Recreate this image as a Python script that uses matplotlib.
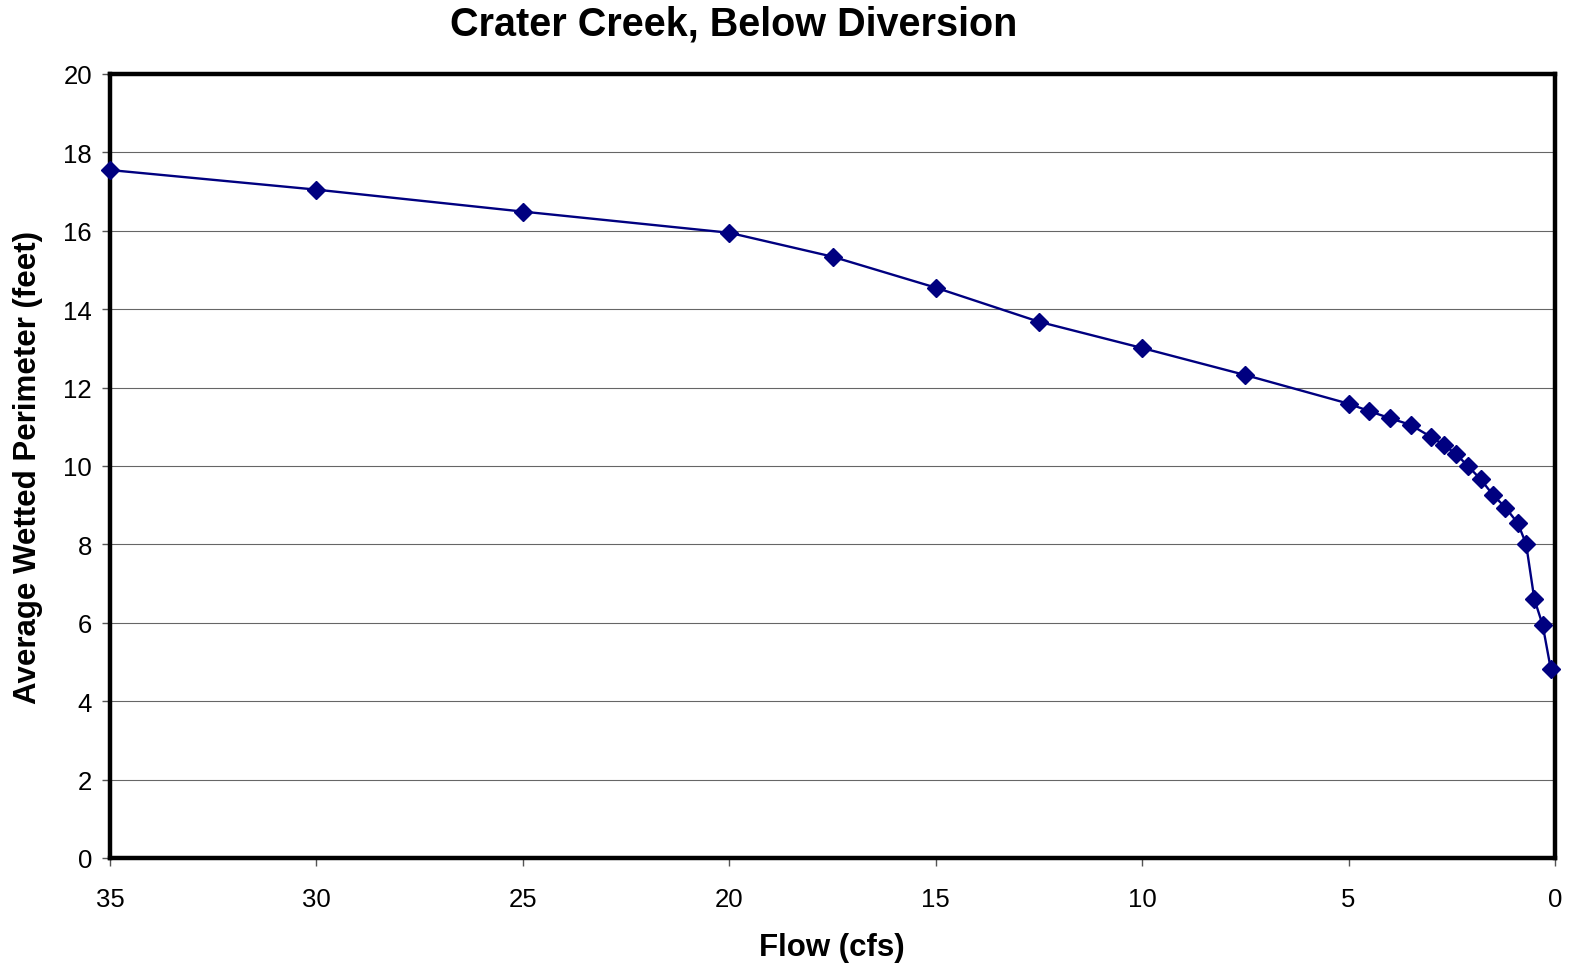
import matplotlib
matplotlib.use("Agg")
import matplotlib.pyplot as plt

flow = [35, 30, 25, 20, 17.5, 15, 12.5, 10, 7.5, 5, 4.5, 4, 3.5, 3, 2.7, 2.4, 2.1,
        1.8, 1.5, 1.2, 0.9, 0.7, 0.5, 0.3, 0.1]
perimeter = [17.55, 17.05, 16.49, 15.95, 15.34, 14.55, 13.68, 13.01, 12.32, 11.59,
             11.40, 11.22, 11.05, 10.74, 10.54, 10.31, 9.99, 9.66, 9.26, 8.94,
             8.54, 8.01, 6.60, 5.95, 4.81]
xticks = [35, 30, 25, 20, 15, 10, 5, 0]
yticks = [0, 2, 4, 6, 8, 10, 12, 14, 16, 18, 20]

plt.rcParams['font.family'] = ['Liberation Sans', 'DejaVu Sans']

fig = plt.figure(figsize=(15.7, 9.7), dpi=100)
ax = fig.add_axes([110/1570, 1 - 859/970, (1555-110)/1570, (859-75)/970])

ax.plot(flow, perimeter, color='#000080', linewidth=1.7, marker='D',
        markersize=9, markerfacecolor='#000080', markeredgecolor='#000080', zorder=3, clip_on=False)

ax.set_xlim(35, 0)
ax.set_ylim(0, 20)
ax.set_xticks(xticks)
ax.set_yticks(yticks)
ax.set_xticklabels([str(t) for t in xticks])
ax.set_yticklabels([str(t) for t in yticks])
ax.grid(axis='y', color='#000000', linewidth=0.8, alpha=0.6)
ax.set_axisbelow(True)
for s in ax.spines.values():
    s.set_linewidth(3.2)
    s.set_color('black')
ax.tick_params(axis='both', labelsize=18.5, direction='out', length=6, width=1, color='#555555')
ax.tick_params(axis='x', pad=15)
ax.tick_params(axis='y', pad=7)

fig.text(734/1570, 1 - 25/970, 'Crater Creek, Below Diversion', ha='center', va='center',
         fontsize=28.5, fontweight='bold')
fig.text(832/1570, 1 - 948/970, 'Flow (cfs)', ha='center', va='center',
         fontsize=22.5, fontweight='bold')
fig.text(28/1570, 1 - 467/970, 'Average Wetted Perimeter (feet)', ha='center', va='center',
         fontsize=22.5, fontweight='bold', rotation=90)

fig.savefig('out.png', dpi=100)
